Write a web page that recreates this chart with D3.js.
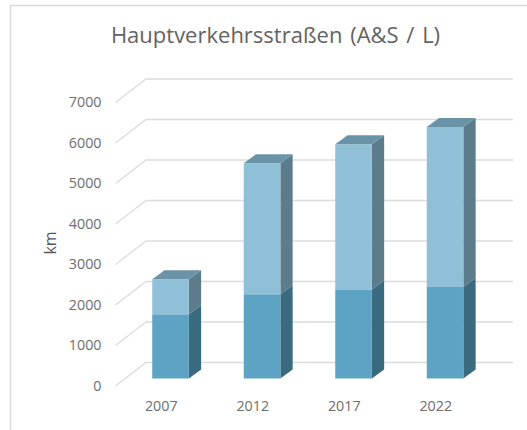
<!DOCTYPE html>
<html><head><meta charset="utf-8">
<script src="https://cdn.jsdelivr.net/npm/d3@7"></script>
<style>html,body{margin:0;padding:0;background:#fff}svg{display:block}text{font-family:"Open Sans",sans-serif}</style>
</head><body><div id="c"></div>
<script>
const years=["2007","2012","2017","2022"];
const lowerKm=[1585,2080,2200,2260];
const upperKm=[865,3233,3583,3950];
const tickValues=[0,1000,2000,3000,4000,5000,6000,7000];
const titleText="Hauptverkehrsstraßen (A&S / L)";
const unitText="km";

const W=527,H=430;
const svg=d3.select("#c").append("svg").attr("width",W).attr("height",H);
const x=d3.scaleBand().domain(years).range([115.5,481.5]).paddingInner(0).paddingOuter(0);
const y=d3.scaleLinear().domain([0,7000]).range([386,102.5]);
const wall={dx:30.5,dy:-23.5};
const bar={off:9.3,offY:-7.5,w:36.6,dx:12.3,dy:-9};
const txt="#6e6e6e",grid="#dcdcdc";

svg.append("path").attr("d",`M10.5,${H}V5.5H${W}`).attr("fill","none").attr("stroke","#d9d9d9").attr("stroke-width",1.5);

svg.append("text").attr("x",275.5).attr("y",43).attr("text-anchor","middle")
  .attr("font-size",22).attr("word-spacing",2).attr("fill","#636363").text(titleText);

const g=svg.append("g");
g.selectAll("path.grid").data(tickValues).join("path").attr("class","grid")
  .attr("d",d=>`M115.5,${y(d)}l${wall.dx},${wall.dy}H513`)
  .attr("fill","none").attr("stroke",grid).attr("stroke-width",1.3);

const axisG=svg.append("g").attr("transform","translate(101.5,-0.5)")
  .call(d3.axisLeft(y).tickValues(tickValues).tickSize(0).tickPadding(0).tickFormat(d3.format("d")));
axisG.select(".domain").remove();
axisG.selectAll("text").attr("font-size",14.3).attr("fill",txt).attr("font-family",'"Open Sans",sans-serif');

const xAxis=svg.append("g").attr("transform","translate(0,401)")
  .call(d3.axisBottom(x).tickSize(0).tickPadding(0));
xAxis.select(".domain").remove();
xAxis.selectAll("text").attr("font-size",14.3).attr("fill",txt).attr("font-family",'"Open Sans",sans-serif');

svg.append("text").attr("transform","translate(56,243) rotate(-90)").attr("text-anchor","middle")
  .attr("font-size",16).attr("fill","#555").text(unitText);

const stacked=years.map((yr,i)=>({yr,segs:[
  {a:0,b:lowerKm[i],front:"#5ca3c4",side:"#3a6a80",top:"#3a6a80"},
  {a:lowerKm[i],b:lowerKm[i]+upperKm[i],front:"#8fc0d7",side:"#5d7c8b",top:"#6a93a8"}]}));
const bars=svg.selectAll("g.bar").data(stacked).join("g").attr("class","bar");
function drawSeg(sel,s,yr,isTop){
  const x0=x(yr)+x.bandwidth()/2+bar.off-bar.w/2,x1=x0+bar.w;
  const y0=y(s.a)+bar.offY,y1=y(s.b)+bar.offY;
  sel.append("path").attr("fill",s.side).attr("d",`M${x1},${y0}l${bar.dx},${bar.dy}V${y1+bar.dy}l${-bar.dx},${-bar.dy}Z`);
  sel.append("rect").attr("x",x0).attr("y",y1).attr("width",bar.w).attr("height",y0-y1).attr("fill",s.front);
  if(isTop) sel.append("path").attr("fill",s.top).attr("d",`M${x0},${y1}l${bar.dx},${bar.dy}h${bar.w}l${-bar.dx},${-bar.dy}Z`);
}
bars.each(function(d){
  const sel=d3.select(this);
  d.segs.forEach((s,i)=>drawSeg(sel,s,d.yr,i===1));
});
</script></body></html>
